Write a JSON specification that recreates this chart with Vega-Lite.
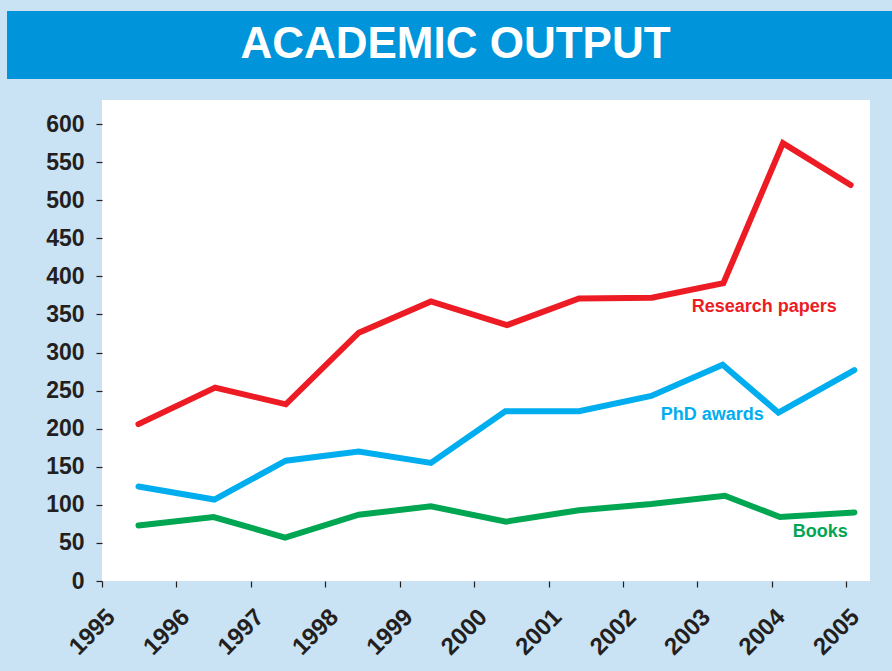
{
  "$schema": "https://vega.github.io/schema/vega-lite/v6.json",
  "background": "#c9e2f4",
  "padding": {"left": 7, "top": 11, "right": 0, "bottom": 30},
  "spacing": 21,
  "config": {
    "font": "Liberation Sans",
    "view": {"stroke": null}
  },
  "datasets": {
    "series": [
      {"series": "Research papers", "year": 1995.49, "value": 206},
      {"series": "Research papers", "year": 1996.52, "value": 254},
      {"series": "Research papers", "year": 1997.47, "value": 232},
      {"series": "Research papers", "year": 1998.45, "value": 326},
      {"series": "Research papers", "year": 1999.42, "value": 367},
      {"series": "Research papers", "year": 2000.44, "value": 336},
      {"series": "Research papers", "year": 2001.41, "value": 371},
      {"series": "Research papers", "year": 2002.39, "value": 372},
      {"series": "Research papers", "year": 2003.35, "value": 391},
      {"series": "Research papers", "year": 2004.15, "value": 575},
      {"series": "Research papers", "year": 2005.06, "value": 520},
      {"series": "PhD awards", "year": 1995.49, "value": 124},
      {"series": "PhD awards", "year": 1996.51, "value": 107},
      {"series": "PhD awards", "year": 1997.47, "value": 158},
      {"series": "PhD awards", "year": 1998.45, "value": 170},
      {"series": "PhD awards", "year": 1999.42, "value": 155},
      {"series": "PhD awards", "year": 2000.42, "value": 223},
      {"series": "PhD awards", "year": 2001.41, "value": 223},
      {"series": "PhD awards", "year": 2002.38, "value": 243},
      {"series": "PhD awards", "year": 2003.34, "value": 284},
      {"series": "PhD awards", "year": 2004.09, "value": 221},
      {"series": "PhD awards", "year": 2005.11, "value": 277},
      {"series": "Books", "year": 1995.49, "value": 73},
      {"series": "Books", "year": 1996.5, "value": 84},
      {"series": "Books", "year": 1997.46, "value": 57},
      {"series": "Books", "year": 1998.45, "value": 87},
      {"series": "Books", "year": 1999.42, "value": 98},
      {"series": "Books", "year": 2000.43, "value": 78},
      {"series": "Books", "year": 2001.41, "value": 93},
      {"series": "Books", "year": 2002.38, "value": 101},
      {"series": "Books", "year": 2003.37, "value": 112},
      {"series": "Books", "year": 2004.11, "value": 84},
      {"series": "Books", "year": 2005.11, "value": 90}
    ],
    "labels": [
      {"series": "Research papers", "year": 2003.9, "value": 360},
      {"series": "PhD awards", "year": 2003.2, "value": 218.6},
      {"series": "Books", "year": 2004.65, "value": 64.3}
    ],
    "header": [{"title": "ACADEMIC OUTPUT"}],
    "empty": []
  },
  "vconcat": [
    {
      "width": 885,
      "height": 68,
      "view": {"fill": "#0095da", "stroke": null},
      "data": {"name": "header"},
      "mark": {"type": "text", "color": "white", "font": "Liberation Sans", "fontSize": 44, "fontWeight": "bold", "align": "center", "baseline": "middle", "dx": 6},
      "encoding": {"text": {"field": "title", "type": "nominal"}}
    },
    {
      "spacing": 0,
      "hconcat": [
        {
          "width": 1,
          "height": 481,
          "data": {"name": "empty"},
          "mark": {"type": "point", "opacity": 0},
          "encoding": {}
        },
        {
          "width": 768,
          "height": 481,
          "view": {"fill": "white", "stroke": null},
          "encoding": {
            "x": {
              "field": "year", "type": "quantitative",
              "scale": {"domain": [1995, 2005.32], "nice": false, "zero": false},
              "axis": {
                "title": null, "grid": false, "domain": false,
                "values": [1995, 1996, 1997, 1998, 1999, 2000, 2001, 2002, 2003, 2004, 2005],
                "format": "d", "tickColor": "#231f20", "tickSize": 6, "tickWidth": 1.2,
                "labelAngle": -45, "labelAlign": "right", "labelBaseline": "middle",
                "labelPadding": 26, "labelOffset": 9,
                "labelFont": "Liberation Sans", "labelFontSize": 24, "labelFontWeight": "bold", "labelColor": "#231f20"
              }
            },
            "y": {
              "field": "value", "type": "quantitative",
              "scale": {"domain": [0, 631.6], "nice": false},
              "axis": {
                "title": null, "grid": false, "domain": false,
                "values": [0, 50, 100, 150, 200, 250, 300, 350, 400, 450, 500, 550, 600],
                "tickColor": "#231f20", "tickSize": 6, "tickWidth": 1.2,
                "labelPadding": 12, "minExtent": 94,
                "labelFont": "Liberation Sans", "labelFontSize": 23, "labelFontWeight": "bold", "labelColor": "#231f20"
              }
            },
            "color": {
              "field": "series", "type": "nominal",
              "scale": {"domain": ["Research papers", "PhD awards", "Books"], "range": ["#ed1c24", "#00aeef", "#00a651"]},
              "legend": null
            }
          },
          "layer": [
            {
              "data": {"name": "series"},
              "mark": {"type": "line", "strokeWidth": 6, "strokeCap": "round", "strokeJoin": "miter"},
              "encoding": {"detail": {"field": "series", "type": "nominal"}}
            },
            {
              "data": {"name": "labels"},
              "mark": {"type": "text", "font": "Liberation Sans", "fontSize": 18, "fontWeight": "bold", "align": "center", "baseline": "middle"},
              "encoding": {"text": {"field": "series", "type": "nominal"}}
            }
          ]
        }
      ]
    }
  ]
}
